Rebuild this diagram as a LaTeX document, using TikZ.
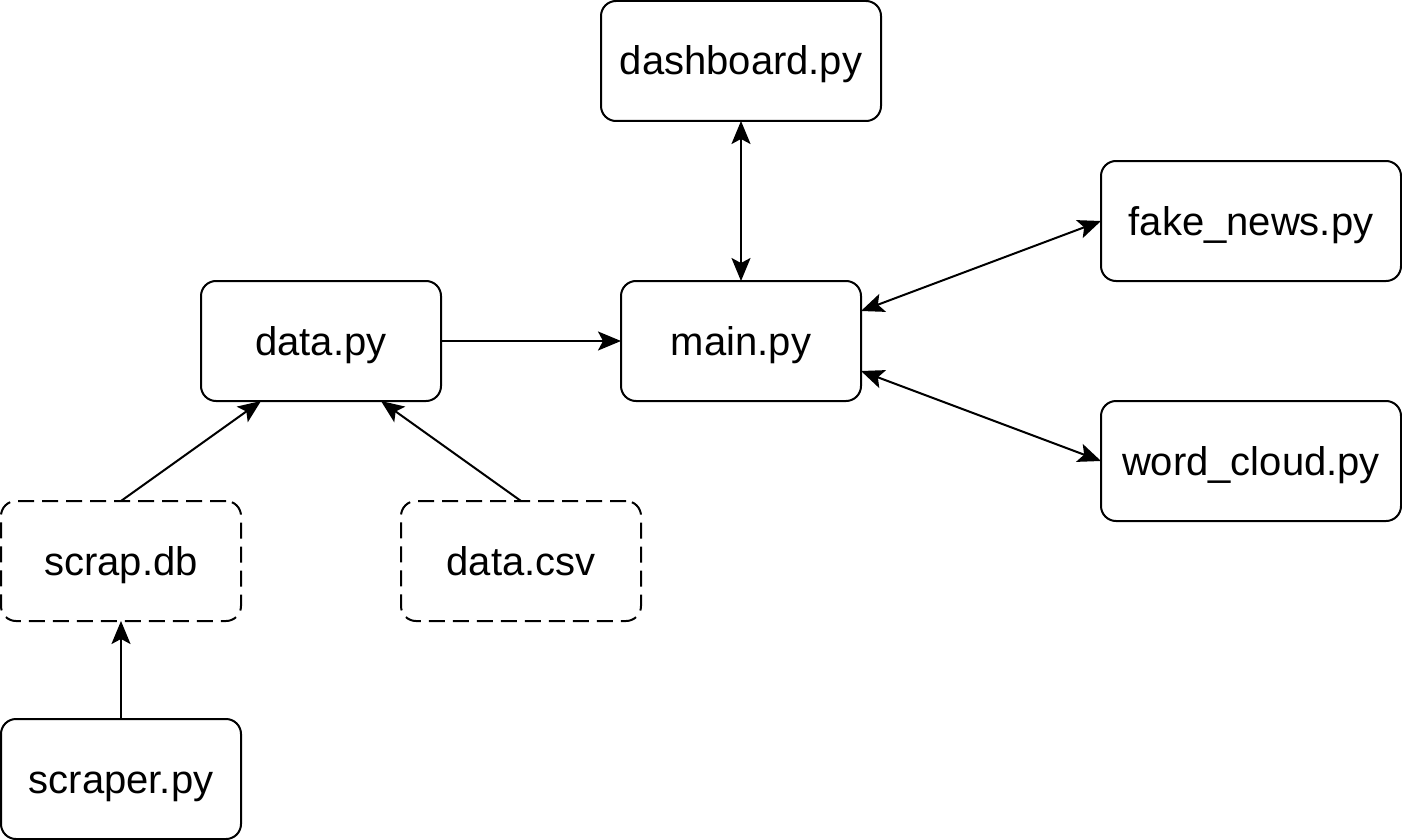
\documentclass[tikz,border=0pt]{standalone}
\usepackage{fontspec}
\setmainfont{Liberation Sans}
\usetikzlibrary{arrows.meta}
\begin{document}
\begin{tikzpicture}[x=1pt,y=-1pt,
  box/.style={draw=black, line width=2pt, rounded corners=15pt, minimum height=120pt, inner sep=0pt, outer sep=0pt, text height=34pt, text depth=6pt, font=\fontsize{40}{48}\selectfont, fill=white},
  dbox/.style={box, dash pattern=on 16pt off 8pt},
  conn/.style={line width=2pt, arrows={-Stealth[length=23pt,width=19pt,inset=5pt]}},
  bconn/.style={line width=2pt, arrows={Stealth[length=23pt,width=19pt,inset=5pt]-Stealth[length=23pt,width=19pt,inset=5pt]}}
]
\useasboundingbox (0,0) rectangle (1402,840);
\node[box, minimum width=280pt] (dash) at (741,61) {dashboard.py};
\node[box, minimum width=300pt] (fake) at (1251,221) {fake\_news.py};
\node[box, minimum width=240pt] (data) at (321,341) {data.py};
\node[box, minimum width=240pt] (main) at (741,341) {main.py};
\node[box, minimum width=300pt] (word) at (1251,461) {word\_cloud.py};
\node[dbox, minimum width=240pt] (scrap) at (121,561) {scrap.db};
\node[dbox, minimum width=240pt] (csv) at (521,561) {data.csv};
\node[box, minimum width=240pt] (scraper) at (121,779) {scraper.py};
\coordinate (m1) at ([yshift=30pt]main.east);
\coordinate (m2) at ([yshift=-30pt]main.east);
\coordinate (d1) at ([xshift=-60pt]data.south);
\coordinate (d2) at ([xshift=60pt]data.south);
\draw[bconn] (dash.south) -- (main.north);
\draw[bconn] (m1) -- (fake.west);
\draw[bconn] (m2) -- (word.west);
\draw[conn] (data.east) -- (main.west);
\draw[conn] (scrap.north) -- (d1);
\draw[conn] (csv.north) -- (d2);
\draw[conn] (scraper.north) -- (scrap.south);
\end{tikzpicture}
\end{document}
